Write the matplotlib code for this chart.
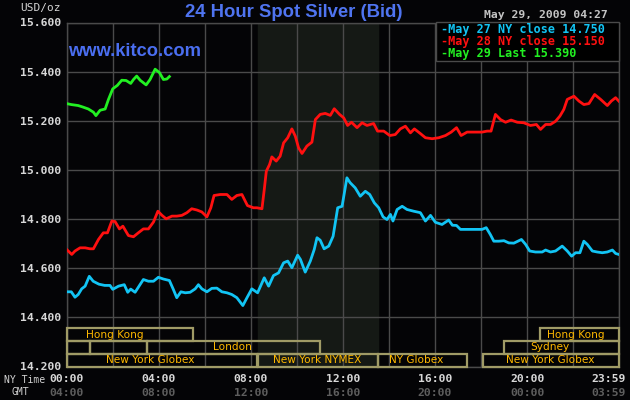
import matplotlib
matplotlib.use("Agg")
import matplotlib.pyplot as plt
from matplotlib.patches import Rectangle
from matplotlib.transforms import blended_transform_factory

# ---- data (hours NY time, USD/oz) ----
may27_t = [0.00, 0.20, 0.36, 0.50, 0.65, 0.80, 0.98, 1.15, 1.40, 1.65, 1.88, 2.00, 2.25, 2.50,
           2.65, 2.78, 2.97, 3.19, 3.33, 3.55, 3.77, 3.98, 4.20, 4.46, 4.63, 4.78, 4.96, 5.15,
           5.36, 5.58, 5.72, 5.87, 6.09, 6.30, 6.52, 6.74, 6.96, 7.17, 7.39, 7.65, 7.83, 8.04,
           8.29, 8.58, 8.77, 8.98, 9.20, 9.42, 9.60, 9.78, 10.03, 10.15, 10.36, 10.58, 10.75,
           10.87, 11.01, 11.18, 11.38, 11.57, 11.77, 11.96, 12.17, 12.31, 12.53, 12.75, 12.97,
           13.16, 13.36, 13.55, 13.74, 13.91, 14.06, 14.17, 14.35, 14.57, 14.78, 15.07, 15.36,
           15.58, 15.80, 16.01, 16.30, 16.59, 16.75, 16.93, 17.10, 17.39, 17.70, 18.04, 18.22,
           18.40, 18.55, 18.77, 18.99, 19.20, 19.42, 19.75, 19.93, 20.11, 20.36, 20.65, 20.80,
           21.01, 21.23, 21.52, 21.74, 21.93, 22.10, 22.29, 22.46, 22.61, 22.83, 23.04, 23.26,
           23.48, 23.70, 23.84, 23.98]
may27_v = [14.504, 14.504, 14.482, 14.493, 14.516, 14.527, 14.567, 14.547, 14.535, 14.530, 14.530,
           14.514, 14.527, 14.533, 14.502, 14.515, 14.502, 14.534, 14.554, 14.547, 14.547, 14.563,
           14.556, 14.550, 14.514, 14.480, 14.504, 14.500, 14.502, 14.516, 14.533, 14.516, 14.504,
           14.518, 14.519, 14.504, 14.500, 14.493, 14.480, 14.448, 14.480, 14.516, 14.500, 14.561,
           14.527, 14.570, 14.581, 14.622, 14.629, 14.602, 14.653, 14.636, 14.584, 14.629, 14.676,
           14.724, 14.714, 14.679, 14.690, 14.730, 14.846, 14.852, 14.968, 14.948, 14.927, 14.893,
           14.913, 14.900, 14.866, 14.846, 14.809, 14.798, 14.819, 14.792, 14.839, 14.852, 14.839,
           14.832, 14.826, 14.792, 14.815, 14.787, 14.778, 14.796, 14.775, 14.774, 14.758, 14.758,
           14.758, 14.758, 14.765, 14.737, 14.710, 14.710, 14.712, 14.703, 14.702, 14.717, 14.697,
           14.670, 14.666, 14.666, 14.674, 14.666, 14.670, 14.690, 14.670, 14.649, 14.663, 14.663,
           14.710, 14.697, 14.670, 14.666, 14.663, 14.666, 14.674, 14.660, 14.656]

may28_t = [0.00, 0.22, 0.36, 0.58, 0.80, 1.01, 1.16, 1.38, 1.59, 1.77, 1.96, 2.10, 2.29, 2.44,
           2.68, 2.90, 3.11, 3.33, 3.55, 3.77, 3.96, 4.14, 4.32, 4.57, 4.78, 5.00, 5.22, 5.43,
           5.65, 5.87, 6.09, 6.26, 6.40, 6.67, 6.96, 7.17, 7.39, 7.61, 7.85, 8.11, 8.26, 8.48,
           8.58, 8.67, 8.81, 8.91, 9.10, 9.27, 9.42, 9.60, 9.78, 9.93, 10.07, 10.22, 10.43, 10.65,
           10.80, 11.01, 11.23, 11.45, 11.62, 11.85, 12.03, 12.20, 12.37, 12.61, 12.83, 13.04,
           13.33, 13.50, 13.77, 14.03, 14.27, 14.49, 14.71, 14.93, 15.10, 15.36, 15.58, 15.87,
           16.16, 16.45, 16.70, 16.93, 17.13, 17.39, 17.68, 18.04, 18.26, 18.43, 18.62, 18.84,
           19.06, 19.30, 19.57, 19.85, 20.14, 20.40, 20.58, 20.80, 21.01, 21.23, 21.42, 21.59,
           21.74, 22.03, 22.25, 22.46, 22.68, 22.93, 23.19, 23.48, 23.65, 23.84, 23.98]
may28_v = [14.676, 14.656, 14.670, 14.683, 14.683, 14.679, 14.679, 14.717, 14.744, 14.744, 14.792,
           14.790, 14.760, 14.771, 14.733, 14.728, 14.744, 14.760, 14.760, 14.788, 14.832, 14.815,
           14.801, 14.812, 14.812, 14.815, 14.826, 14.842, 14.837, 14.829, 14.809, 14.846, 14.896,
           14.900, 14.900, 14.880, 14.896, 14.900, 14.855, 14.846, 14.846, 14.842, 14.920, 14.995,
           15.022, 15.053, 15.036, 15.056, 15.110, 15.131, 15.167, 15.137, 15.090, 15.067, 15.097,
           15.113, 15.205, 15.226, 15.230, 15.222, 15.249, 15.226, 15.212, 15.181, 15.194, 15.172,
           15.192, 15.181, 15.189, 15.158, 15.158, 15.140, 15.144, 15.167, 15.178, 15.151, 15.167,
           15.148, 15.131, 15.127, 15.131, 15.140, 15.154, 15.172, 15.140, 15.154, 15.154, 15.154,
           15.158, 15.158, 15.226, 15.205, 15.194, 15.203, 15.194, 15.192, 15.181, 15.185, 15.165,
           15.185, 15.185, 15.198, 15.219, 15.246, 15.287, 15.300, 15.280, 15.266, 15.270, 15.307,
           15.287, 15.262, 15.280, 15.294, 15.280]

may29_t = [0.00, 0.20, 0.50, 0.70, 0.94, 1.16, 1.27, 1.45, 1.67, 1.81, 2.00, 2.20, 2.39, 2.58,
           2.78, 2.90, 3.04, 3.19, 3.45, 3.62, 3.84, 4.03, 4.20, 4.35, 4.46]
may29_v = [15.270, 15.266, 15.262, 15.256, 15.248, 15.235, 15.221, 15.243, 15.248, 15.286, 15.330,
           15.344, 15.365, 15.364, 15.352, 15.368, 15.382, 15.365, 15.346, 15.368, 15.410, 15.396,
           15.368, 15.370, 15.380]

legend_labels = ["May 27 NY close", "May 28 NY close", "May 29 Last"]
legend_values = [14.750, 15.150, 15.390]

# market sessions: name, start hour, end hour, row (0 = top)
sessions = [("Hong Kong", 0.0, 5.5, 0), ("", 0.0, 1.0, 1), ("", 1.0, 3.5, 1),
            ("London", 3.5, 11.0, 1), ("New York Globex", 0.0, 8.25, 2),
            ("New York NYMEX", 8.33, 13.5, 2), ("NY Globex", 13.5, 17.4, 2),
            ("New York Globex", 18.07, 24.0, 2), ("Sydney", 19.0, 24.0, 1),
            ("Hong Kong", 20.55, 24.0, 0)]
session_label_x = [2.1, 0, 0, 7.2, 3.65, 10.9, 15.2, 21.0, 21.0, 22.1]

ny_ticks = ["00:00", "04:00", "08:00", "12:00", "16:00", "20:00", "23:59"]
gmt_ticks = ["04:00", "08:00", "12:00", "16:00", "20:00", "00:00", "03:59"]
tick_hours = [0, 4, 8, 12, 16, 20, 23.53]

# ---- styling ----
bg = "#040406"
grid_c = "#4a4a4a"
blue_c = "#12c4f4"
red_c = "#ff1010"
green_c = "#22f022"
mono = "DejaVu Sans Mono"

W, H = 630, 400
fig = plt.figure(figsize=(6.3, 4.0), dpi=100, facecolor=bg)


def fx(x):
    return x / W


def fy(y):
    return 1 - y / H


ax = fig.add_axes([fx(66.7), fy(366.5), fx(619.3) - fx(66.7), fy(22.5) - fy(366.5)])
ax.set_facecolor(bg)
ax.set_xlim(0, 24)
ax.set_ylim(14.2, 15.6)

# NYMEX pit hours shading
ax.axvspan(8.33, 13.5, color="#151915", zorder=0)

ax.set_xticks(range(0, 25, 2))
ax.set_yticks([14.2, 14.4, 14.6, 14.8, 15.0, 15.2, 15.4, 15.6])
ax.grid(True, color=grid_c, lw=1.0, zorder=1)
ax.tick_params(length=0, labelbottom=False)
ax.set_yticklabels(["%.3f" % v for v in ax.get_yticks()], family=mono, weight="bold",
                   fontsize=8.2, color="#d8d8d8")
ax.tick_params(axis="y", pad=4)
for s in ax.spines.values():
    s.set_color(grid_c)
    s.set_linewidth(1.0)

ax.plot(may27_t, may27_v, color=blue_c, lw=2.0, zorder=3)
ax.plot(may28_t, may28_v, color=red_c, lw=2.0, zorder=3)
ax.plot(may29_t, may29_v, color=green_c, lw=2.0, zorder=3)

# session boxes along the bottom
trans = blended_transform_factory(ax.transData, ax.transAxes)
row_h = 12.8 / 344
for (name, t0, t1, row), lx in zip(sessions, session_label_x):
    y0 = (2 - row) * row_h
    ax.add_patch(Rectangle((t0, y0), t1 - t0, row_h, transform=trans, fill=False,
                           edgecolor="#a09b66", lw=1.6, zorder=4, clip_on=False))
    if name:
        ax.text(lx, y0 + row_h / 2, name, transform=trans, ha="center", va="center",
                fontsize=7.6, color="#ffb800", zorder=5)

# legend box
ax.add_patch(Rectangle((0.6678, 0.889), 1 - 0.6678, 0.111, transform=ax.transAxes,
                       facecolor="#000000", edgecolor=grid_c, lw=1.0, zorder=6, clip_on=False))
for i, (lab, val, c) in enumerate(zip(legend_labels, legend_values, [blue_c, red_c, green_c])):
    fig.text(fx(441), fy(29.5 + 12 * i), "-%s %.3f" % (lab, val), family=mono, weight="bold",
             fontsize=8.5, color=c, va="center", ha="left", zorder=7)

# x axis labels, NY time and GMT
for h, a, b in zip(tick_hours, ny_ticks, gmt_ticks):
    xf = fx(66.7 + 23.02 * h)
    fig.text(xf, fy(378.5), a, family=mono, weight="bold", fontsize=8.2,
             color="#d8d8d8", ha="center", va="center")
    fig.text(xf, fy(393), b, family=mono, weight="bold", fontsize=8.2,
             color="#5e5e5e", ha="center", va="center")
fig.text(fx(45), fy(380), "NY Time", family=mono, fontsize=7.0, color="#d4d4d4",
         ha="right", va="center")
fig.text(fx(29), fy(392), "GMT", family=mono, fontsize=7.0, color="#d4d4d4",
         ha="right", va="center")

# header texts
fig.text(fx(20), fy(8.5), "USD/oz", family=mono, fontsize=8.0, color="#d4d4d4",
         ha="left", va="center")
fig.text(fx(294), fy(17.3), "24 Hour Spot Silver (Bid)", family="Liberation Sans",
         weight="bold", fontsize=13.3, color="#4f74f0", ha="center", va="baseline")
fig.text(fx(68), fy(56.5), "www.kitco.com", family="Liberation Sans", weight="bold",
         fontsize=13.2, color="#4a6ef0", ha="left", va="baseline", zorder=8)
fig.text(fx(607.5), fy(15), "May 29, 2009 04:27", family=mono, weight="bold", fontsize=8.2,
         color="#c4c4c4", ha="right", va="center")

fig.savefig("out.png", dpi=100, facecolor=bg)
